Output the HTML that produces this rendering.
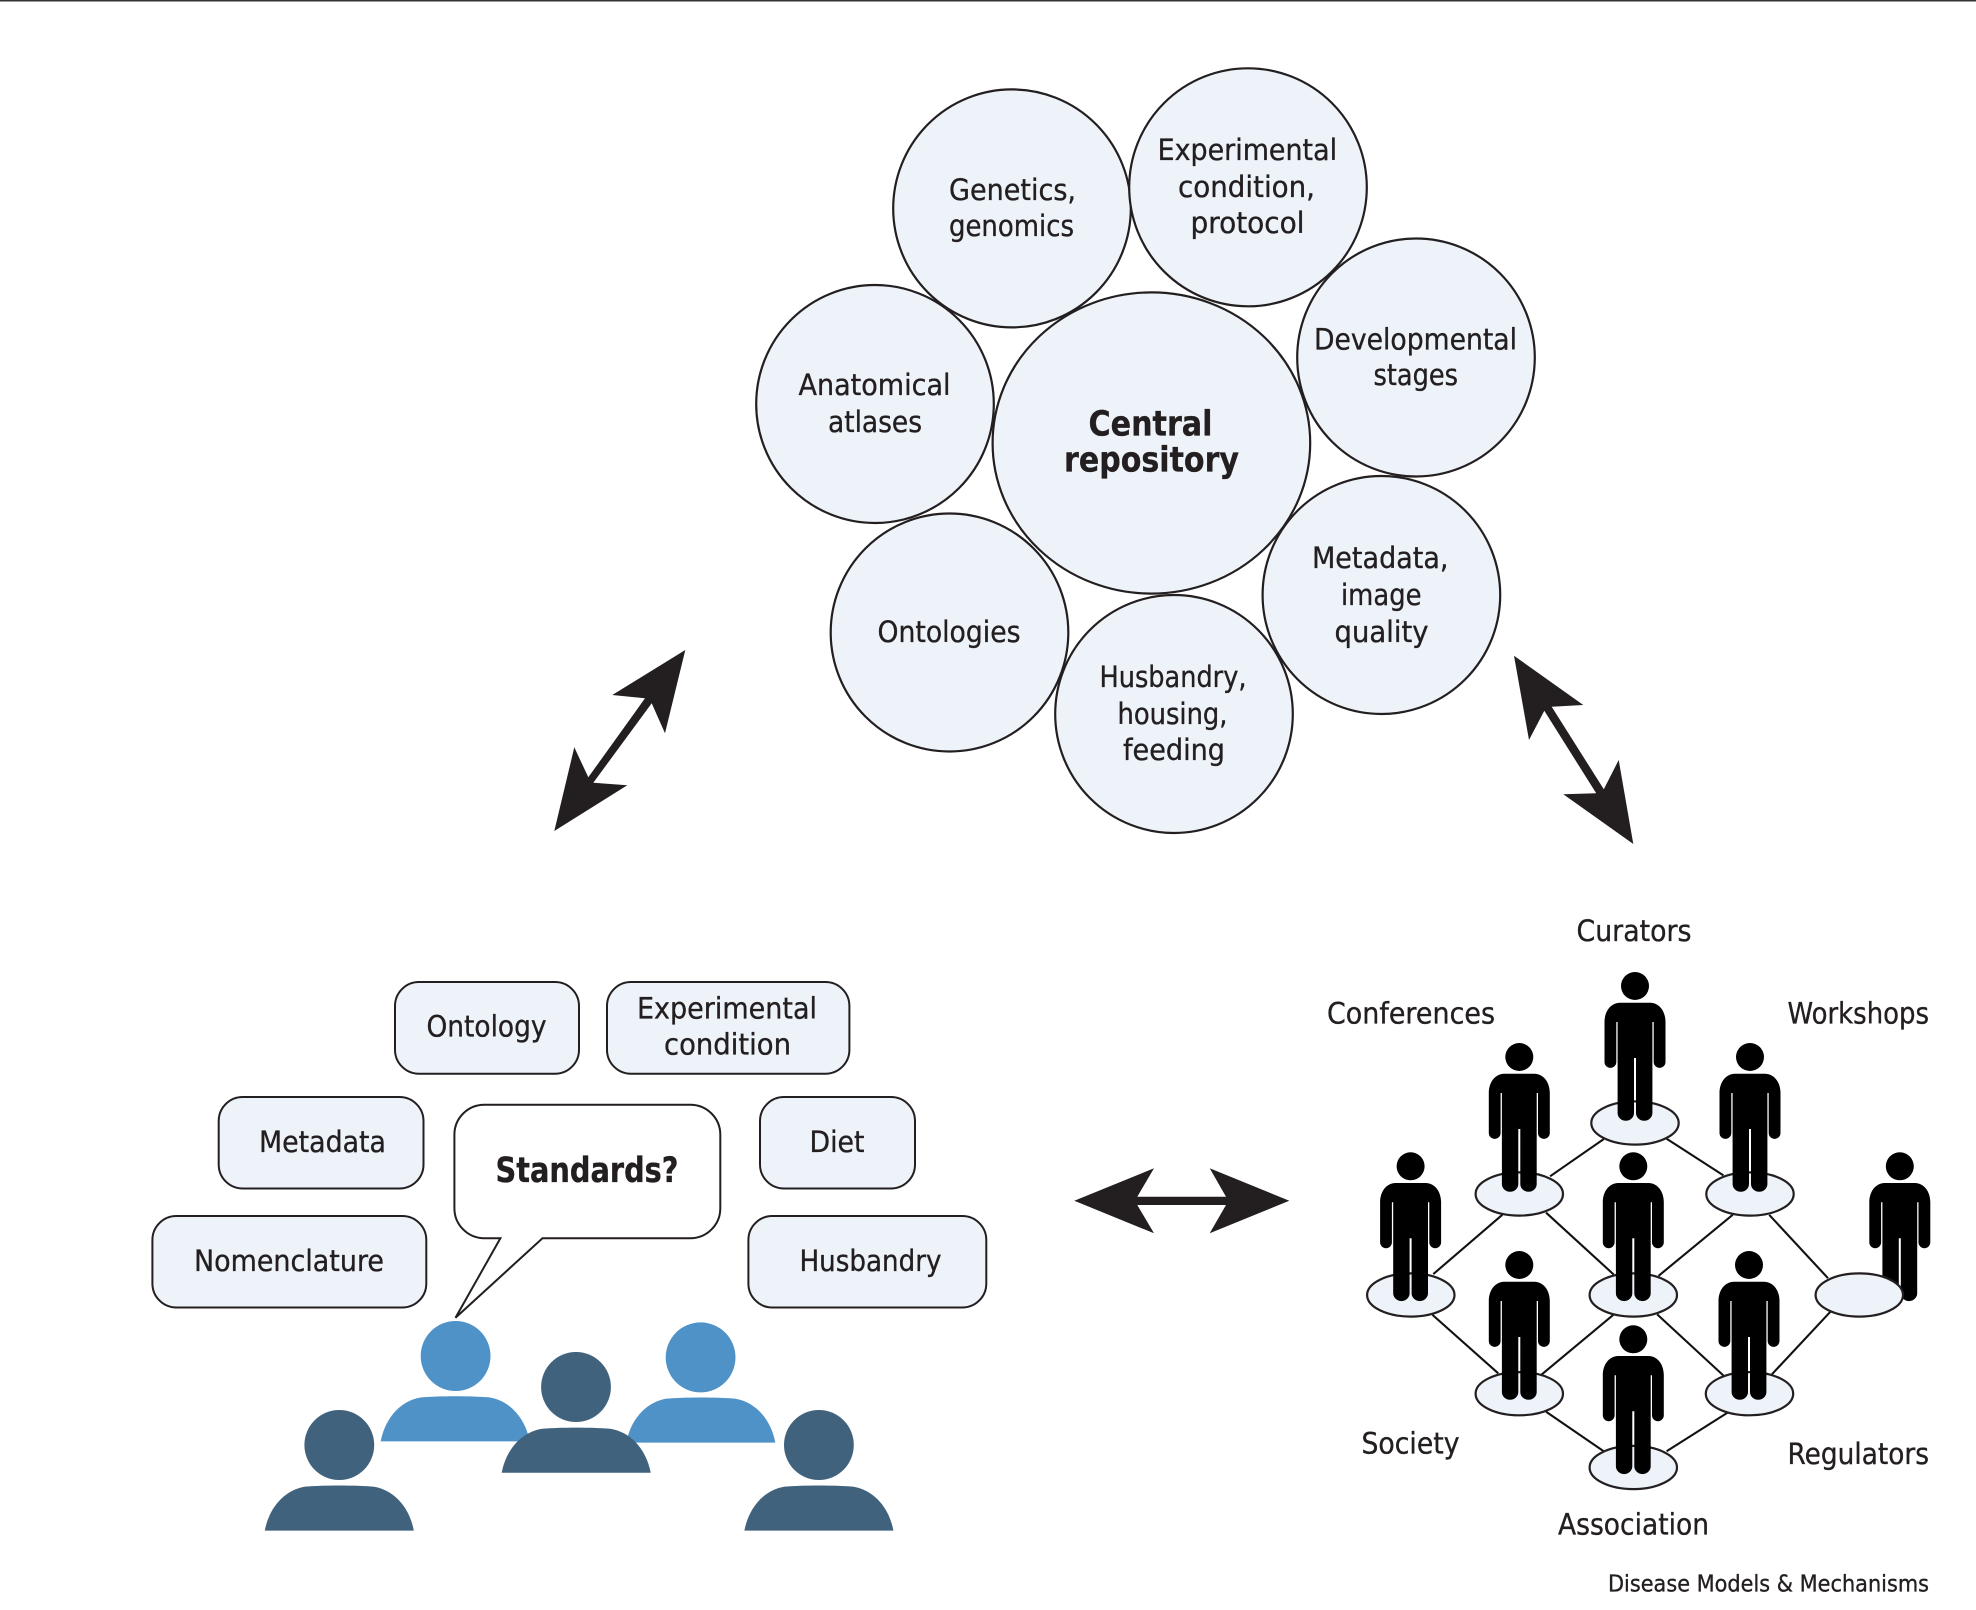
<!DOCTYPE html>
<html>
<head>
<meta charset="utf-8">
<title>Central repository diagram</title>
<style>
html,body{margin:0;padding:0;background:#fff;}
svg{display:block;}
text{font-family:"DejaVu Sans","Liberation Sans",sans-serif;font-size:29.5px;fill:#231f20;stroke:#231f20;stroke-width:.35px;}
.b{font-weight:bold;font-size:34.5px;}
.s{font-size:23.5px;}
.c{fill:#eef3fa;stroke:#231f20;stroke-width:2.2;}
.n{fill:#eef3fa;stroke:#231f20;stroke-width:2;}
.l{stroke:#111;stroke-width:2.1;fill:none;}
</style>
</head>
<body>
<svg width="1976" height="1610" viewBox="0 0 1976 1610" xmlns="http://www.w3.org/2000/svg">
<defs>
<g id="p">
<circle cx="0" cy="0" r="14"/>
<path d="M-15,16.7 H15 C25,17 30.5,26 30.5,36 V76 A5.9,5.9 0 0 1 18.7,76 V36 H17.4 V127 A7.9,7.5 0 0 1 1,127 V72 H-1 V127 A7.9,7.5 0 0 1 -17.4,127 V36 H-18.7 V76 A5.9,5.9 0 0 1 -30.5,76 V36 C-30.5,26 -25,17 -15,16.7 Z"/>
</g>
<path id="bd" d="M-74.5,0 C-70,-24 -54,-41 -34,-44 C-15,-45.5 15,-45.5 34,-44 C54,-41 70,-24 74.5,0 Z"/>
</defs>

<rect x="0" y="0" width="1976" height="1.5" fill="#333"/>

<!-- Circles -->
<ellipse class="c" cx="1012" cy="208.4" rx="118.8" ry="119"/>
<ellipse class="c" cx="1248" cy="187.3" rx="118.8" ry="119"/>
<ellipse class="c" cx="1416" cy="357.5" rx="118.8" ry="119"/>
<ellipse class="c" cx="875" cy="404" rx="118.8" ry="119"/>
<ellipse class="c" cx="1381.4" cy="595" rx="118.8" ry="119"/>
<ellipse class="c" cx="949.5" cy="632.5" rx="118.8" ry="119"/>
<ellipse class="c" cx="1151.4" cy="443" rx="158.8" ry="150.6"/>
<ellipse class="c" cx="1174" cy="714" rx="118.8" ry="119"/>

<text x="949" y="200" textLength="127" lengthAdjust="spacingAndGlyphs">Genetics,</text>
<text x="949" y="236" textLength="125" lengthAdjust="spacingAndGlyphs">genomics</text>
<text x="1157.6" y="160" textLength="179.5" lengthAdjust="spacingAndGlyphs">Experimental</text>
<text x="1178" y="197" textLength="137" lengthAdjust="spacingAndGlyphs">condition,</text>
<text x="1190.5" y="233" textLength="114" lengthAdjust="spacingAndGlyphs">protocol</text>
<text x="1314" y="349.4" textLength="203" lengthAdjust="spacingAndGlyphs">Developmental</text>
<text x="1373.5" y="385" textLength="84.5" lengthAdjust="spacingAndGlyphs">stages</text>
<text x="798.5" y="395" textLength="152" lengthAdjust="spacingAndGlyphs">Anatomical</text>
<text x="828" y="432" textLength="94" lengthAdjust="spacingAndGlyphs">atlases</text>
<text class="b" x="1088.5" y="435.5" textLength="124" lengthAdjust="spacingAndGlyphs">Central</text>
<text class="b" x="1064" y="471.5" textLength="175" lengthAdjust="spacingAndGlyphs">repository</text>
<text x="1312" y="568" textLength="136.5" lengthAdjust="spacingAndGlyphs">Metadata,</text>
<text x="1341" y="605" textLength="80.5" lengthAdjust="spacingAndGlyphs">image</text>
<text x="1334.5" y="642" textLength="94" lengthAdjust="spacingAndGlyphs">quality</text>
<text x="877.5" y="642" textLength="143" lengthAdjust="spacingAndGlyphs">Ontologies</text>
<text x="1099.5" y="687" textLength="147" lengthAdjust="spacingAndGlyphs">Husbandry,</text>
<text x="1117.5" y="724" textLength="110" lengthAdjust="spacingAndGlyphs">housing,</text>
<text x="1123" y="760" textLength="102" lengthAdjust="spacingAndGlyphs">feeding</text>

<!-- Arrows -->
<g fill="#231f20">
<polygon points="685.3,650 665,733.3 651.7,703.3 593.3,782.7 627.3,785.3 554.3,831 574.3,747.3 588.3,777.3 645,698.3 612.3,695"/>
<polygon points="1514,655.7 1583.3,705 1551.7,706.7 1603.8,789.3 1618.7,760 1633.3,844 1563.3,794.3 1596.2,793.3 1544.3,710.7 1529,740"/>
<polygon points="1074.3,1200.7 1154,1168.3 1137.3,1196.7 1226,1196.7 1209.7,1168.3 1289.3,1200.7 1209.7,1233.3 1226,1205 1137.3,1205 1154,1233.3"/>
</g>

<!-- Boxes -->
<rect class="n" x="395" y="982" width="184" height="91.7" rx="24"/>
<rect class="n" x="607" y="982" width="242.4" height="91.7" rx="24"/>
<rect class="n" x="218.7" y="1097" width="204.8" height="91.5" rx="24"/>
<rect class="n" x="760" y="1097" width="155" height="91.5" rx="24"/>
<rect class="n" x="152.4" y="1216" width="273.9" height="91.5" rx="24"/>
<rect class="n" x="748.4" y="1216" width="237.9" height="91.5" rx="24"/>
<path d="M484.4,1104.7 H690.3 A30,30 0 0 1 720.3,1134.7 V1208.2 A30,30 0 0 1 690.3,1238.2 H542.5 L455.5,1317.8 L500.4,1238.2 H484.4 A30,30 0 0 1 454.4,1208.2 V1134.7 A30,30 0 0 1 484.4,1104.7 Z" fill="#fff" stroke="#231f20" stroke-width="2"/>

<text x="426.5" y="1036.5" textLength="120" lengthAdjust="spacingAndGlyphs">Ontology</text>
<text x="637" y="1018.5" textLength="180" lengthAdjust="spacingAndGlyphs">Experimental</text>
<text x="664" y="1054.5" textLength="127" lengthAdjust="spacingAndGlyphs">condition</text>
<text x="259" y="1152" textLength="127" lengthAdjust="spacingAndGlyphs">Metadata</text>
<text x="809.5" y="1152" textLength="55" lengthAdjust="spacingAndGlyphs">Diet</text>
<text x="194" y="1270.8" textLength="190" lengthAdjust="spacingAndGlyphs">Nomenclature</text>
<text x="799.5" y="1270.8" textLength="142" lengthAdjust="spacingAndGlyphs">Husbandry</text>
<text class="b" x="495.5" y="1182" textLength="183" lengthAdjust="spacingAndGlyphs">Standards?</text>

<!-- People group -->
<g fill="#4f92c8">
<ellipse cx="455.6" cy="1356" rx="34.9" ry="35"/>
<use href="#bd" x="455.2" y="1441.4"/>
<ellipse cx="700.6" cy="1357.4" rx="34.9" ry="35"/>
<use href="#bd" x="700.8" y="1442.6"/>
</g>
<g fill="#41627c">
<ellipse cx="576" cy="1387" rx="34.9" ry="35"/>
<use href="#bd" x="576.2" y="1472.8"/>
<ellipse cx="339.3" cy="1445" rx="34.9" ry="35"/>
<use href="#bd" x="339.3" y="1530.6"/>
<ellipse cx="818.9" cy="1445" rx="34.9" ry="35"/>
<use href="#bd" x="818.9" y="1530.6"/>
</g>

<!-- Network -->
<g class="l">
<line x1="1603.7" y1="1139.1" x2="1550.1" y2="1176.3"/>
<line x1="1666.6" y1="1138.7" x2="1723.4" y2="1175.4"/>
<line x1="1502.3" y1="1214.8" x2="1433.3" y2="1274.1"/>
<line x1="1546.1" y1="1212.7" x2="1613.8" y2="1274.6"/>
<line x1="1732.7" y1="1214.8" x2="1658.5" y2="1275.9"/>
<line x1="1769.2" y1="1214.8" x2="1828" y2="1278.2"/>
<line x1="1432.5" y1="1314.9" x2="1498.2" y2="1373.3"/>
<line x1="1613.8" y1="1314.4" x2="1541.6" y2="1374.6"/>
<line x1="1657.2" y1="1314.4" x2="1723.4" y2="1375.5"/>
<line x1="1830.9" y1="1311.2" x2="1772" y2="1374.2"/>
<line x1="1546.1" y1="1411.8" x2="1603.7" y2="1451.2"/>
<line x1="1727.4" y1="1412.7" x2="1666.6" y2="1451.2"/>
</g>
<use href="#p" x="1899.8" y="1166.3" fill="#000"/>
<g class="c">
<ellipse cx="1635" cy="1123" rx="43.7" ry="21.6"/>
<ellipse cx="1519.3" cy="1194" rx="43.7" ry="21.6"/>
<ellipse cx="1750" cy="1194" rx="43.7" ry="21.6"/>
<ellipse cx="1410.8" cy="1295" rx="43.7" ry="21.6"/>
<ellipse cx="1633.3" cy="1295" rx="43.7" ry="21.6"/>
<ellipse cx="1859.3" cy="1295" rx="43.7" ry="21.6"/>
<ellipse cx="1519.3" cy="1393.7" rx="43.7" ry="21.6"/>
<ellipse cx="1749.5" cy="1393.7" rx="43.7" ry="21.6"/>
<ellipse cx="1633.3" cy="1467.5" rx="43.7" ry="21.6"/>
</g>
<g fill="#000">
<use href="#p" x="1635" y="986"/>
<use href="#p" x="1519.3" y="1057"/>
<use href="#p" x="1750" y="1057"/>
<use href="#p" x="1410.6" y="1166.3"/>
<use href="#p" x="1633.3" y="1166.3"/>
<use href="#p" x="1519.3" y="1265"/>
<use href="#p" x="1749" y="1265"/>
<use href="#p" x="1633.3" y="1339.3"/>
</g>

<text x="1576.5" y="940.8" textLength="115" lengthAdjust="spacingAndGlyphs">Curators</text>
<text x="1327" y="1023.6" textLength="168" lengthAdjust="spacingAndGlyphs">Conferences</text>
<text x="1787.5" y="1023.6" textLength="141.5" lengthAdjust="spacingAndGlyphs">Workshops</text>
<text x="1361.5" y="1453.4" textLength="98" lengthAdjust="spacingAndGlyphs">Society</text>
<text x="1787.5" y="1464" textLength="141.5" lengthAdjust="spacingAndGlyphs">Regulators</text>
<text x="1558" y="1534.5" textLength="151" lengthAdjust="spacingAndGlyphs">Association</text>
<text class="s" x="1608" y="1591.6" textLength="321" lengthAdjust="spacingAndGlyphs">Disease Models &amp; Mechanisms</text>
</svg>
</body>
</html>
